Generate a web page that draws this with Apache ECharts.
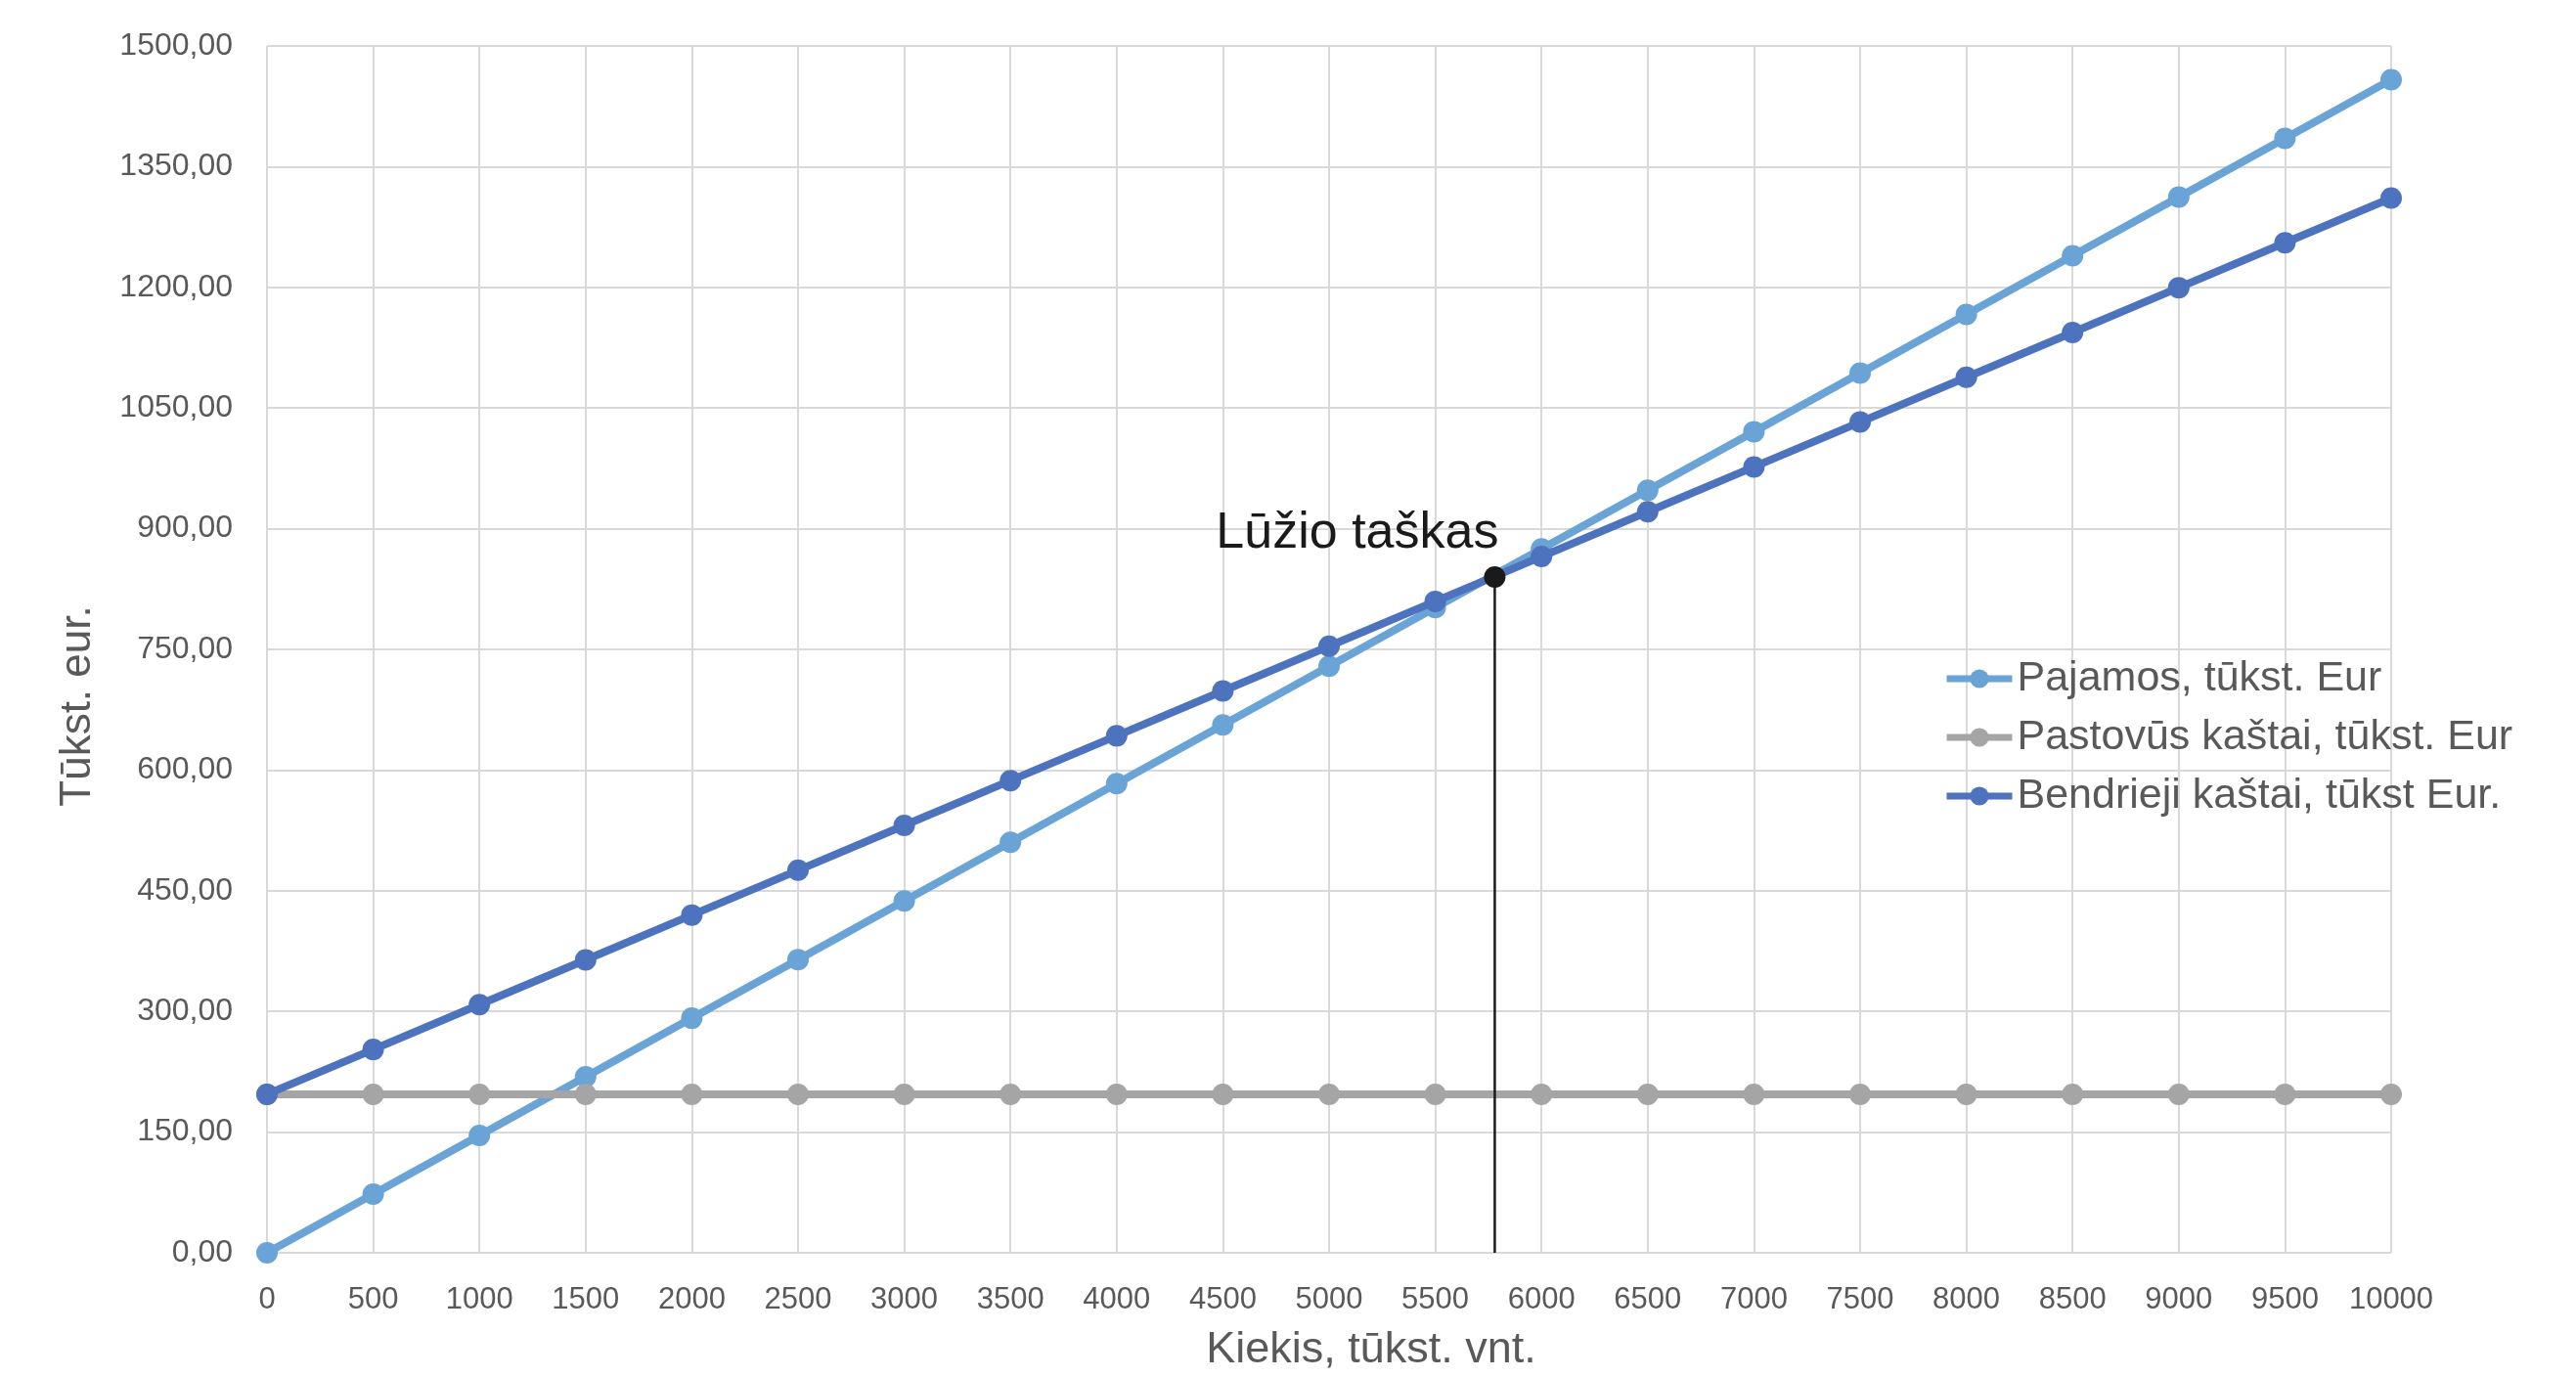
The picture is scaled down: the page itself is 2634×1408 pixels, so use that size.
<!DOCTYPE html>
<html>
<head>
<meta charset="utf-8">
<script src="https://cdn.jsdelivr.net/npm/echarts@6/dist/echarts.min.js"></script>
<style>
  html, body { margin: 0; padding: 0; background: #ffffff; }
  #chart { width: 2634px; height: 1408px; }
</style>
</head>
<body>
<div id="chart"></div>
<script>
// Quantity, thousand units
const kiekis = [0, 500, 1000, 1500, 2000, 2500, 3000, 3500, 4000, 4500, 5000,
                5500, 6000, 6500, 7000, 7500, 8000, 8500, 9000, 9500, 10000];
// Revenue, thousand EUR
const pajamos = [0, 72.9, 145.8, 218.7, 291.6, 364.5, 437.4, 510.3, 583.2, 656.1, 729.0,
                 801.9, 874.8, 947.7, 1020.6, 1093.5, 1166.4, 1239.3, 1312.2, 1385.1, 1458.0];
// Fixed costs, thousand EUR
const pastovus = [197, 197, 197, 197, 197, 197, 197, 197, 197, 197, 197,
                  197, 197, 197, 197, 197, 197, 197, 197, 197, 197];
// Total costs, thousand EUR
const bendrieji = [197, 252.7, 308.4, 364.1, 419.8, 475.5, 531.2, 586.9, 642.6, 698.3, 754.0,
                   809.7, 865.4, 921.1, 976.8, 1032.5, 1088.2, 1143.9, 1199.6, 1255.3, 1311.0];
// Break-even point (quantity, amount)
const luzioTaskas = [5780, 840];

const seriesNames = ['Pajamos, tūkst. Eur', 'Pastovūs kaštai, tūkst. Eur', 'Bendrieji kaštai, tūkst Eur.'];
const colors = ['#6AA3D6', '#A5A5A5', '#4E73BE'];

const FONT = "'Liberation Sans', Arial, sans-serif";

const pairs = (vals) => kiekis.map((x, i) => [x, vals[i]]);

const lineSeries = (name, vals, color, z) => ({
  name: name,
  type: 'line',
  data: pairs(vals),
  symbol: 'circle',
  symbolSize: 22,
  z: z,
  lineStyle: { color: color, width: 8 },
  itemStyle: { color: color },
  emphasis: { disabled: true },
  animation: false
});

const chart = echarts.init(document.getElementById('chart'));

chart.setOption({
  backgroundColor: '#ffffff',
  animation: false,
  grid: { left: 273, right: 189, top: 47, bottom: 127 },
  xAxis: {
    type: 'value',
    min: 0,
    max: 10000,
    interval: 500,
    axisLine: { show: false },
    axisTick: { show: false },
    splitLine: { show: true, lineStyle: { color: '#D9D9D9', width: 2 } },
    axisLabel: {
      color: '#595959',
      fontFamily: FONT,
      fontSize: 31,
      margin: 33,
      hideOverlap: false,
      showMinLabel: true,
      showMaxLabel: true,
      formatter: (v) => String(v)
    }
  },
  yAxis: {
    type: 'value',
    min: 0,
    max: 1500,
    interval: 150,
    axisLine: { show: false },
    axisTick: { show: false },
    splitLine: { show: true, lineStyle: { color: '#D9D9D9', width: 2 } },
    axisLabel: {
      color: '#595959',
      fontFamily: FONT,
      fontSize: 32,
      margin: 35,
      formatter: (v) => v.toFixed(2).replace('.', ',')
    }
  },
  legend: {
    data: seriesNames,
    orient: 'vertical',
    left: 1982,
    top: 667,
    itemWidth: 67,
    itemHeight: 24,
    itemGap: 16,
    lineStyle: { width: 7 },
    textStyle: {
      color: '#595959',
      fontFamily: FONT,
      fontSize: 43,
      lineHeight: 44
    }
  },
  graphic: [
    {
      type: 'text',
      x: 1402,
      y: 1381,
      style: {
        text: 'Kiekis, tūkst. vnt.',
        fill: '#595959',
        font: '45px ' + FONT,
        align: 'center',
        verticalAlign: 'middle'
      }
    },
    {
      type: 'text',
      x: 80,
      y: 722,
      rotation: Math.PI / 2,
      style: {
        text: 'Tūkst. eur.',
        fill: '#595959',
        font: '44px ' + FONT,
        align: 'center',
        verticalAlign: 'middle'
      }
    }
  ],
  series: [
    lineSeries(seriesNames[0], pajamos, colors[0], 2),
    lineSeries(seriesNames[1], pastovus, colors[1], 3),
    lineSeries(seriesNames[2], bendrieji, colors[2], 4),
    {
      name: 'Lūžio taškas',
      type: 'line',
      z: 6,
      data: [
        { value: [luzioTaskas[0], 0], symbol: 'none' },
        {
          value: luzioTaskas,
          symbol: 'circle',
          symbolSize: 22,
          label: {
            show: true,
            position: 'top',
            align: 'right',
            distance: 7,
            offset: [4, 0],
            formatter: 'Lūžio taškas',
            color: '#1A1A1A',
            fontFamily: FONT,
            fontSize: 52,
            lineHeight: 52
          }
        }
      ],
      lineStyle: { color: '#1A1A1A', width: 2.5 },
      itemStyle: { color: '#1A1A1A' },
      emphasis: { disabled: true },
      animation: false
    }
  ]
});
</script>
</body>
</html>
